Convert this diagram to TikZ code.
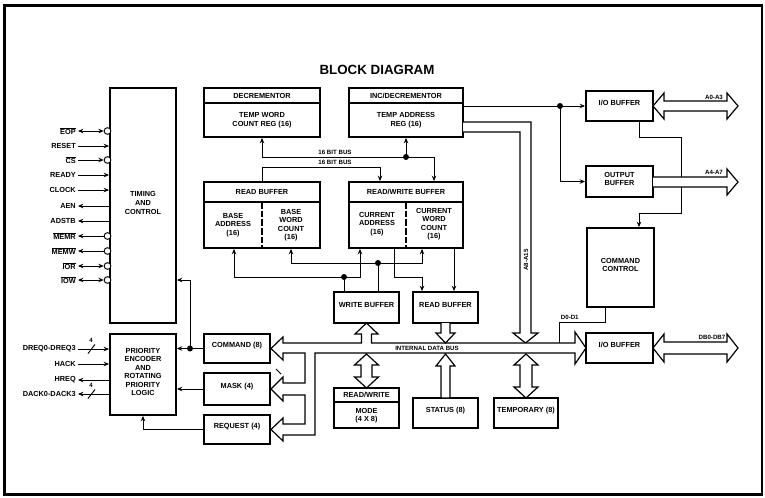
\documentclass[tikz,border=0pt]{standalone}
\usepackage{fontspec}
\setmainfont{Liberation Sans}
\usetikzlibrary{arrows.meta,fit}
\newcommand\lbl{\fontsize{5.5}{6.4}\selectfont\bfseries}
\newcommand\tinylbl{\fontsize{4.6}{5}\selectfont\bfseries}
\newcommand\ovl[1]{$\overline{\mbox{#1}}$}
\newcommand\mybox[6]{\node[box, fit={(#2,#3) (#4,#5)}] (#1) {#6};}
\begin{document}
\begin{tikzpicture}[x=0.75pt,y=-0.75pt, >={Stealth[length=4pt,width=3.4pt]},
  box/.style={draw, line width=1.4pt, inner sep=0pt, align=center, font=\lbl},
  txt/.style={inner sep=0pt, align=center, font=\lbl},
  sig/.style={inner sep=1.5pt, anchor=east, font=\lbl},
  ln/.style={line width=0.7pt},
  hdr/.style={line width=1.1pt},
  divl/.style={line width=1.1pt, dash pattern=on 5pt off 1.5pt},
  busl/.style={draw, line width=0.9pt, fill=white, line join=miter},
  dot/.style={circle, fill, inner sep=0pt, minimum size=4.5pt},
  bub/.style={circle, draw, line width=0.7pt, fill=white, inner sep=0pt, minimum size=5pt},
  small/.style={font=\tinylbl, inner sep=0.5pt},
]
\useasboundingbox (0,0) rectangle (765,497);
\draw[line width=1.8pt] (4.5,5.5) rectangle (762,494.5);

\node[font=\fontsize{10}{12}\selectfont\bfseries] (title) at (377,70) {BLOCK DIAGRAM};

% ---- boxes
\mybox{T}{110}{88}{176}{323}{TIMING\\AND\\CONTROL}
\mybox{P}{110}{334}{176}{415}{PRIORITY\\ENCODER\\AND\\ROTATING\\PRIORITY\\LOGIC}

\mybox{DEC}{204}{88}{320}{137}{}
\draw[hdr] (DEC.west |- 0,103) -- (DEC.east |- 0,103);
\node[txt] (dech) at (262,95.5) {DECREMENTOR};
\node[txt] (decb) at (262,120) {TEMP WORD\\COUNT REG (16)};

\mybox{INC}{349}{88}{463}{137}{}
\draw[hdr] (INC.west |- 0,103) -- (INC.east |- 0,103);
\node[txt] (inch) at (406,95.5) {INC/DECREMENTOR};
\node[txt] (incb) at (406,120) {TEMP ADDRESS\\REG (16)};

\mybox{RB}{204}{182}{320}{248}{}
\draw[hdr] (RB.west |- 0,202) -- (RB.east |- 0,202);
\draw[divl] (262,202) -- (RB.south -| 262,0);
\node[txt] (rbh) at (262,192) {READ BUFFER};
\node[txt] (rbl) at (233,225) {BASE\\ADDRESS\\(16)};
\node[txt] (rbr) at (291,225) {BASE\\WORD\\COUNT\\(16)};

\mybox{RW}{349}{182}{463}{248}{}
\draw[hdr] (RW.west |- 0,202) -- (RW.east |- 0,202);
\draw[divl] (406,202) -- (RW.south -| 406,0);
\node[txt] (rwh) at (406,192) {READ/WRITE BUFFER};
\node[txt] (rwl) at (377,224) {CURRENT\\ADDRESS\\(16)};
\node[txt] (rwr) at (434,224) {CURRENT\\WORD\\COUNT\\(16)};

\mybox{WB}{334}{292}{399}{323}{WRITE BUFFER}
\mybox{RDB}{413}{292}{478}{323}{READ BUFFER}
\mybox{CMD}{204}{334}{270}{363}{COMMAND (8)}
\mybox{MSK}{204}{373}{270}{405}{MASK (4)}
\mybox{REQ}{204}{415}{270}{444}{REQUEST (4)}

\mybox{MODE}{334}{388}{399}{428}{}
\draw[hdr] (MODE.west |- 0,402) -- (MODE.east |- 0,402);
\node[txt] (modeh) at (366.5,395) {READ/WRITE};
\node[txt] (modeb) at (366.5,415.5) {MODE\\(4 X 8)};

\mybox{STA}{413}{398}{478}{428}{STATUS (8)}
\mybox{TMP}{494}{398}{558}{428}{TEMPORARY (8)}
\mybox{IOA}{586}{91}{653}{121}{I/O BUFFER}
\mybox{OUT}{586}{166}{653}{197}{OUTPUT\\BUFFER}
\mybox{CC}{587}{228}{654}{307}{COMMAND\\CONTROL}
\mybox{IOD}{586}{333}{653}{363}{I/O BUFFER}

% ---- timing signals
\node[sig] (eop) at (78,131) {\ovl{EOP}};
\node[sig] (reset) at (78,146) {RESET};
\node[sig] (cs) at (78,160) {\ovl{CS}};
\node[sig] (ready) at (78,175) {READY};
\node[sig] (clock) at (78,190) {CLOCK};
\node[sig] (aen) at (78,206) {AEN};
\node[sig] (adstb) at (78,221) {ADSTB};
\node[sig] (memr) at (78,236) {\ovl{MEMR}};
\node[sig] (memw) at (78,251) {\ovl{MEMW}};
\node[sig] (ior) at (78,266) {\ovl{IOR}};
\node[sig] (iow) at (78,280) {\ovl{IOW}};
\node[bub] (b1) at (107.5,131) {};
\node[bub] (b2) at (107.5,160) {};
\node[bub] (b3) at (107.5,236) {};
\node[bub] (b4) at (107.5,251) {};
\node[bub] (b5) at (107.5,266) {};
\node[bub] (b6) at (107.5,280) {};
\draw[ln,<->] (eop) -- (b1);
\draw[ln,->] (reset) -- (T.west |- reset);
\draw[ln,->] (cs) -- (b2);
\draw[ln,->] (ready) -- (T.west |- ready);
\draw[ln,->] (clock) -- (T.west |- clock);
\draw[ln,<-] (aen) -- (T.west |- aen);
\draw[ln,<-] (adstb) -- (T.west |- adstb);
\draw[ln,<-] (memr) -- (b3);
\draw[ln,<-] (memw) -- (b4);
\draw[ln,<->] (ior) -- (b5);
\draw[ln,<->] (iow) -- (b6);

% ---- priority signals
\node[sig] (dreq) at (78,349) {DREQ0-DREQ3};
\node[sig] (hack) at (78,364) {HACK};
\node[sig] (hreq) at (78,380) {HREQ};
\node[sig] (dack) at (78,394) {DACK0-DACK3};
\draw[ln,->] (dreq) -- (P.west |- dreq);
\draw[ln,->] (hack) -- (P.west |- hack);
\draw[ln,<-] (hreq) -- (P.west |- hreq);
\draw[ln,<-] (dack) -- (P.west |- dack);
\draw[ln] (88,353.5) -- (95,344.5);
\draw[ln] (88,398.5) -- (95,389.5);
\node[small] (n4a) at (91,340.5) {4};
\node[small] (n4b) at (91,385.5) {4};

% ---- command / mask / request to priority
\draw[ln,->] (CMD.west) -- (P.east |- CMD.west);
\node[dot] (jd) at (190,348.5) {};
\draw[ln,->] (jd.center) |- (T.east |- iow);
\draw[ln,->] (MSK.west) -- (P.east |- MSK.west);
\draw[ln,->] (REQ.west) -| (P.south);

% ---- 16 bit buses
\draw[ln,<->] (DEC.south) |- (434,157) -- (RW.north -| 434,0);
\node[dot] (d16) at (406,157) {};
\draw[ln,->] (d16.center) -- (INC.south);
\draw[ln,->] (RB.north) |- (380,167) -- (RW.north -| 380,0);
\node[small] (bus1) at (335,152) {16 BIT BUS};
\node[small] (bus2) at (335,162) {16 BIT BUS};

% ---- buffers to write/read buffer
\draw[ln,<->] (RB.south -| 234,0) |- (360,277) -- (RW.south -| 360,0);
\node[dot] (d1) at (344,277) {};
\draw[ln] (d1.center) -- (WB.north -| 344,0);
\draw[ln,<->] (RB.south -| 291,0) |- (422,263) -- (RW.south -| 422,0);
\node[dot] (d2) at (378,263) {};
\draw[ln] (d2.center) -- (WB.north -| 378,0);
\draw[ln,->] (RW.south -| 394,0) |- (422,277) -- (RDB.north -| 422,0);
\draw[ln,->] (RW.south -| 454,0) -- (RDB.north -| 454,0);

% ---- right side
\draw[ln,->] (INC.east |- IOA.west) -- (IOA.west);
\node[dot] (d3) at (560,106) {};
\draw[ln,->] (d3.center) |- (OUT.west);
\draw[ln,->] (IOA.south -| 639,0) |- (681,137) |- (639,213) -- (CC.north -| 639,0);
\coordinate (dbj) at (559,343);
\draw[ln] (CC.south -| 605,0) |- (559,322) -- (dbj);
\node[small, anchor=south west] (d01) at (560,320.5) {D0-D1};

% ---- hollow buses
\draw[busl] (653,106) -- (664,93) -- (664,101) -- (727,101) -- (727,93) -- (738,106)
  -- (727,119) -- (727,111) -- (664,111) -- (664,119) -- cycle;
\draw[busl] (653,177) -- (727,177) -- (727,169) -- (738,182) -- (727,195) -- (727,187) -- (653,187);
\draw[busl] (653,348) -- (664,334) -- (664,342) -- (727,342) -- (727,334) -- (738,348)
  -- (727,362) -- (727,354) -- (664,354) -- (664,362) -- cycle;
\draw[busl] (463,122) -- (531,122) -- (531,333) -- (538,333) -- (525.5,343) -- (513,333)
  -- (520,333) -- (520,132) -- (463,132);
\draw[busl] (271,348.5) -- (283,337) -- (283,343) -- (361.5,343) -- (361.5,334) -- (355,334)
  -- (366.5,323) -- (378,334) -- (371.5,334) -- (371.5,343) -- (575,343) -- (575,332)
  -- (586,348) -- (575,364) -- (575,353) -- (315,353) -- (315,435) -- (283,435)
  -- (283,441) -- (271,429.5) -- (283,418) -- (283,424) -- (305,424) -- (305,395)
  -- (283,395) -- (283,401) -- (271,389) -- (283,377) -- (283,383) -- (305,383)
  -- (305,353) -- (283,353) -- (283,360) -- cycle;
\draw[busl] (441,323) -- (441,333) -- (436,333) -- (445.5,343) -- (455,333) -- (450,333) -- (450,323);
\draw[busl] (366.5,354) -- (378.5,365) -- (372,365) -- (372,377) -- (378.5,377) -- (366.5,388)
  -- (354.5,377) -- (361,377) -- (361,365) -- (354.5,365) -- cycle;
\draw[busl] (445.5,354) -- (455,366) -- (450,366) -- (450,398) -- (441,398) -- (441,366) -- (436,366) -- cycle;
\draw[busl] (526,354) -- (538,365) -- (532,365) -- (532,387) -- (538,387) -- (526,398)
  -- (514,387) -- (520,387) -- (520,365) -- (514,365) -- cycle;
\draw[ln] (276,369) -- (281,374);

\node[small] (idb) at (427,348) {INTERNAL DATA BUS};
\node[small, rotate=90] (a815) at (526,260) {A8-A15};
\node[small] (a03) at (714,97) {A0-A3};
\node[small] (a47) at (714,172) {A4-A7};
\node[small] (dbl) at (712,337) {DB0-DB7};
\end{tikzpicture}
\end{document}
